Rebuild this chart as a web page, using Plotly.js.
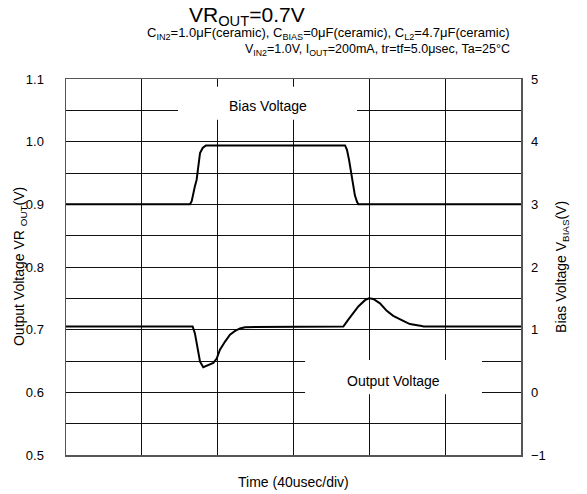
<!DOCTYPE html>
<html>
<head>
<meta charset="utf-8">
<script src="https://cdn.plot.ly/plotly-3.0.1.min.js"></script>
<style>html,body{margin:0;padding:0;background:#fff;}#chart{width:587px;height:494px;}</style>
</head>
<body>
<div id="chart"></div>
<script>
// Time in microseconds (40 usec/div, 6 divisions)
const biasTime = [0, 65.4, 66.3, 67.1, 68.0, 68.9, 69.5, 70.3, 70.7, 72.1, 73.8, 147.2, 148.2, 149.3, 150.3, 151.4, 152.4, 153.5, 154.2, 240];
const biasVolt = [3.0, 3.0, 3.05, 3.18, 3.29, 3.39, 3.55, 3.71, 3.82, 3.90, 3.94, 3.94, 3.87, 3.71, 3.52, 3.30, 3.14, 3.04, 3.0, 3.0];

const outTime = [0, 66.8, 68.0, 68.9, 69.8, 70.7, 72.4, 75.1, 77.7, 79.5, 81.2, 83.9, 86.5, 89.2, 91.8, 94.4,
                 146.3, 148.9, 151.5, 154.2, 157.7, 159.8, 162.1, 165.6, 169.2, 172.6, 177.9, 181.4, 187.6, 188.5, 240];
const outVolt = [0.705, 0.705, 0.694, 0.678, 0.662, 0.649, 0.640, 0.644, 0.647, 0.654, 0.668, 0.681, 0.692, 0.698, 0.702, 0.704,
                 0.705, 0.716, 0.726, 0.737, 0.747, 0.750, 0.749, 0.742, 0.730, 0.722, 0.714, 0.709, 0.706, 0.705, 0.705];

const leftTicks = [0.5, 0.6, 0.7, 0.8, 0.9, 1.0, 1.1];
const leftLabels = ['0.5', '0.6', '0.7', '0.8', '0.9', '1.0', '1.1'];
const rightTicks = [-1, 0, 1, 2, 3, 4, 5];

const FONT = 'Liberation Sans, Arial, sans-serif';
const GRID = '#111';

const traces = [
  {x: outTime, y: outVolt, type: 'scatter', mode: 'lines', line: {color: '#000', width: 2}, yaxis: 'y', hoverinfo: 'none'},
  {x: biasTime, y: biasVolt, type: 'scatter', mode: 'lines', line: {color: '#000', width: 2}, yaxis: 'y2', hoverinfo: 'none'}
];

const layout = {
  width: 587, height: 494,
  margin: {l: 66, r: 66, t: 79, b: 39, pad: 0},
  paper_bgcolor: '#fff', plot_bgcolor: '#fff',
  showlegend: false,
  font: {family: FONT, size: 12, color: '#000'},
  xaxis: {range: [0, 240], dtick: 40, tick0: 0, showticklabels: false, ticks: '',
          showgrid: true, gridcolor: GRID, gridwidth: 1, zeroline: false,
          showline: true, mirror: true, linecolor: '#555', linewidth: 1.5},
  yaxis: {range: [0.5, 1.1], tickvals: leftTicks, ticktext: leftLabels, ticks: '',
          ticklabelstandoff: 18, tickfont: {family: FONT, size: 13, color: '#000'},
          showgrid: true, gridcolor: GRID, gridwidth: 1, zeroline: false,
          minor: {dtick: 0.05, tick0: 0.5, showgrid: true, gridcolor: GRID, gridwidth: 1, ticks: ''},
          showline: true, mirror: true, linecolor: '#555', linewidth: 1.5},
  yaxis2: {range: [-1, 5], tickvals: rightTicks, overlaying: 'y', side: 'right', ticks: '',
           ticklabelstandoff: 9, tickfont: {family: FONT, size: 13, color: '#000'},
           showgrid: false, zeroline: false, showline: false},
  shapes: [
    {type: 'rect', xref: 'x', yref: 'y', x0: 59.1, x1: 153.5, y0: 1.035, y1: 1.0877, fillcolor: '#fff', line: {width: 0}, layer: 'above'},
    {type: 'rect', xref: 'x', yref: 'y', x0: 126.1, x1: 219.4, y0: 0.597, y1: 0.6515, fillcolor: '#fff', line: {width: 0}, layer: 'above'}
  ],
  annotations: [
    {text: 'VR<sub>OUT</sub>=0.7V', xref: 'paper', yref: 'paper', x: 0.398, y: 1.167, xanchor: 'center', yanchor: 'middle',
     showarrow: false, font: {family: FONT, size: 21, color: '#000'}},
    {text: 'C<sub>IN2</sub>=1.0μF(ceramic), C<sub>BIAS</sub>=0μF(ceramic), C<sub>L2</sub>=4.7μF(ceramic)', xref: 'paper', yref: 'paper',
     x: 0.9795, y: 1.1223, xanchor: 'right', yanchor: 'middle', showarrow: false, font: {family: FONT, size: 13, color: '#000'}},
    {text: 'V<sub>IN2</sub>=1.0V, I<sub>OUT</sub>=200mA, tr=tf=5.0μsec, Ta=25°C', xref: 'paper', yref: 'paper',
     x: 0.9795, y: 1.0771, xanchor: 'right', yanchor: 'middle', showarrow: false, font: {family: FONT, size: 12.5, color: '#000'}},
    {text: 'Bias Voltage', xref: 'x', yref: 'y', x: 106.5, y: 1.0562, xanchor: 'center', yanchor: 'middle', showarrow: false,
     font: {family: FONT, size: 14, color: '#000'}},
    {text: 'Output Voltage', xref: 'x', yref: 'y', x: 172.5, y: 0.6185, xanchor: 'center', yanchor: 'middle', showarrow: false,
     font: {family: FONT, size: 14, color: '#000'}},
    {text: 'Time (40usec/div)', xref: 'paper', yref: 'paper', x: 0.5, y: -0.0718, xanchor: 'center', yanchor: 'middle', showarrow: false,
     font: {family: FONT, size: 14, color: '#000'}},
    {text: 'Output Voltage VR <sub>OUT</sub>(V)', xref: 'paper', yref: 'paper', x: -0.101, y: 0.5, xanchor: 'center', yanchor: 'middle',
     textangle: -90, showarrow: false, font: {family: FONT, size: 14, color: '#000'}},
    {text: 'Bias Voltage V<sub>BIAS</sub>(V)', xref: 'paper', yref: 'paper', x: 1.090, y: 0.5, xanchor: 'center', yanchor: 'middle',
     textangle: -90, showarrow: false, font: {family: FONT, size: 14, color: '#000'}}
  ]
};

Plotly.newPlot('chart', traces, layout, {staticPlot: true, displayModeBar: false});
</script>
</body>
</html>
